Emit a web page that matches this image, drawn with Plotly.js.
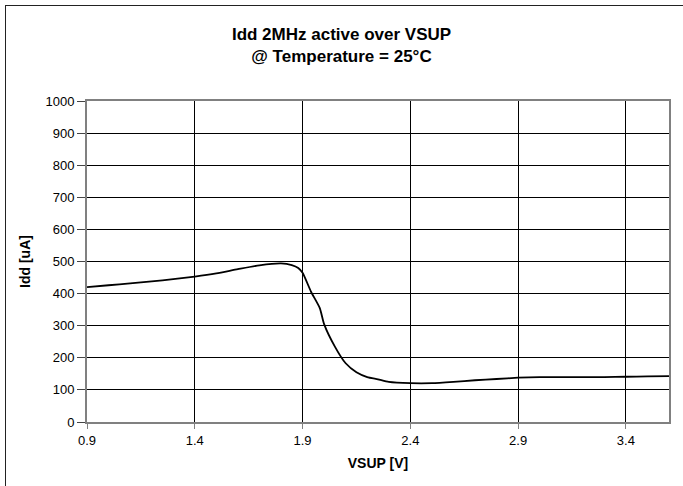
<!DOCTYPE html>
<html>
<head>
<meta charset="utf-8">
<script src="https://cdn.plot.ly/plotly-3.0.1.min.js"></script>
<style>
html,body{margin:0;padding:0;background:#fff;overflow:hidden;width:683px;height:486px;}
#chart{position:absolute;left:0;top:0;width:683px;height:486px;}
#frame{position:absolute;left:5px;top:5px;width:700px;height:500px;border:1px solid #222;pointer-events:none;}
</style>
</head>
<body>
<div id="chart"></div>
<div id="frame"></div>
<script>
const vsup = [0.9, 1.0, 1.1, 1.2, 1.3, 1.4, 1.5, 1.6, 1.7, 1.8, 1.85, 1.88, 1.9, 1.94, 1.98, 2.0, 2.05, 2.1, 2.15, 2.2, 2.25, 2.3, 2.4, 2.5, 2.6, 2.7, 2.8, 2.9, 3.0, 3.1, 3.2, 3.3, 3.4, 3.5, 3.6];
const idd  = [420, 426, 432, 438, 445, 453, 463, 476, 488, 494, 489, 480, 465, 405, 355, 305, 235, 183, 155, 140, 133, 125, 121, 121, 125, 130, 134, 138, 140, 140, 140, 140, 141, 142, 143];
const xTicks = [0.9, 1.4, 1.9, 2.4, 2.9, 3.4];
const xTickText = ['0.9', '1.4', '1.9', '2.4', '2.9', '3.4'];
const yTicks = [0, 100, 200, 300, 400, 500, 600, 700, 800, 900, 1000];

const trace = {
  x: vsup, y: idd, type: 'scatter', mode: 'lines',
  line: {color: '#000', width: 1.8, shape: 'spline', smoothing: 0.6},
  hoverinfo: 'skip'
};

const layout = {
  width: 683, height: 486,
  margin: {l: 87, r: 14, t: 101, b: 64},
  paper_bgcolor: '#fff', plot_bgcolor: '#fff',
  showlegend: false,
  font: {family: 'Liberation Sans, Arial, sans-serif', color: '#000', size: 13},
  title: {
    text: '<b>Idd 2MHz active over VSUP</b><br><b>@ Temperature = 25°C</b>',
    font: {size: 17, family: 'Liberation Sans, Arial, sans-serif', color: '#000'},
    x: 0.5, xanchor: 'center', y: 0.917, yanchor: 'top'
  },
  xaxis: {
    range: [0.9, 3.6],
    tickvals: xTicks, ticktext: xTickText,
    showgrid: true, gridcolor: '#000', gridwidth: 1,
    zeroline: false,
    showline: true, linecolor: '#808080', linewidth: 2, mirror: true,
    ticks: 'outside', ticklen: 5, tickcolor: '#808080', tickwidth: 1,
    tickfont: {size: 13},
    title: {text: '<b>VSUP [V]</b>', font: {size: 14}, standoff: 12}
  },
  yaxis: {
    range: [0, 1000],
    tickvals: yTicks,
    showgrid: true, gridcolor: '#000', gridwidth: 1,
    zeroline: false,
    showline: true, linecolor: '#808080', linewidth: 2, mirror: true,
    ticks: 'outside', ticklen: 8, tickcolor: '#444', tickwidth: 1,
    tickfont: {size: 13},
    title: {text: '<b>Idd [uA]</b>', font: {size: 14}, standoff: 12}
  }
};

Plotly.newPlot('chart', [trace], layout, {staticPlot: true, displayModeBar: false});
</script>
</body>
</html>
